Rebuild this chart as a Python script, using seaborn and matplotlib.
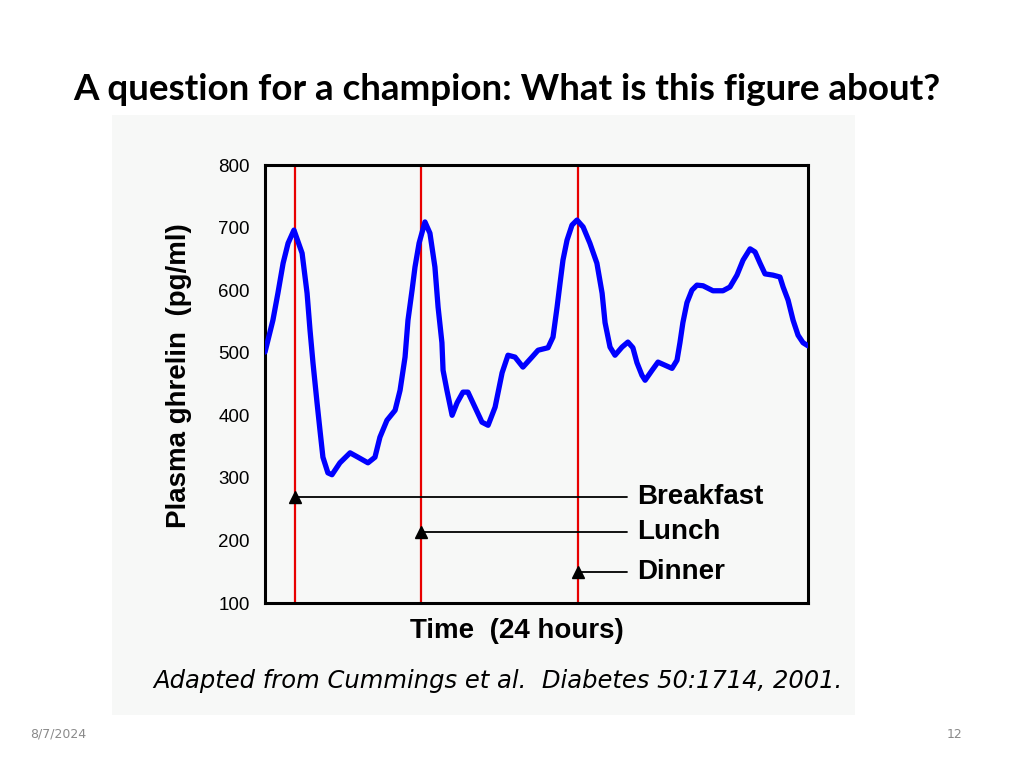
import matplotlib
matplotlib.use("Agg")
import matplotlib.pyplot as plt
from matplotlib.patches import Rectangle
import seaborn as sns
import pandas as pd

# ---- data ----
time_h = [0.00, 0.35, 0.57, 0.80, 1.02, 1.28, 1.64, 1.86, 1.99, 2.12, 2.30, 2.43,
          2.56, 2.78, 2.96, 3.31, 3.76, 4.11, 4.55, 4.86, 5.08, 5.39, 5.75, 5.97,
          6.19, 6.32, 6.50, 6.63, 6.81, 7.07, 7.29, 7.51, 7.65, 7.82, 7.87, 8.04,
          8.27, 8.49, 8.75, 8.97, 9.28, 9.59, 9.86, 10.17, 10.48, 10.74, 11.05,
          11.40, 11.80, 12.07, 12.51, 12.73, 12.91, 13.04, 13.17, 13.35, 13.57,
          13.79, 14.06, 14.36, 14.67, 14.90, 15.03, 15.25, 15.47, 15.78, 16.04,
          16.26, 16.44, 16.66, 16.80, 17.11, 17.37, 17.68, 17.99, 18.21, 18.34,
          18.47, 18.65, 18.87, 19.09, 19.36, 19.80, 20.24, 20.55, 20.86, 21.13,
          21.44, 21.66, 21.88, 22.10, 22.45, 22.76, 22.90, 23.12, 23.34, 23.56,
          23.78, 24.00]
ghrelin = [501, 552, 595, 643, 675, 696, 659, 595, 536, 484, 420, 376,
           333, 308, 305, 324, 340, 333, 324, 333, 365, 392, 408, 440,
           493, 552, 600, 637, 675, 709, 691, 637, 573, 516, 472, 440,
           400, 420, 437, 437, 413, 389, 384, 413, 468, 496, 493,
           477, 493, 504, 508, 525, 573, 611, 648, 680, 704,
           712, 701, 675, 643, 595, 548, 509, 496, 509, 517,
           508, 484, 464, 456, 472, 485, 480, 475, 488, 516,
           548, 580, 600, 608, 607, 599, 599, 605, 624, 648,
           666, 661, 643, 626, 624, 621, 605, 584, 552, 528,
           516, 511]
meal_labels = ["Breakfast", "Lunch", "Dinner"]
meal_times = [1.33, 6.90, 13.83]
meal_levels = [270, 213, 150]
y_ticks = [100, 200, 300, 400, 500, 600, 700, 800]

df = pd.DataFrame({"time": time_h, "ghrelin": ghrelin})

sns.set_style("white")
plt.rcParams["font.family"] = ["Liberation Sans", "DejaVu Sans"]
plt.rcParams["text.color"] = "black"
plt.rcParams["axes.labelcolor"] = "black"
plt.rcParams["ytick.color"] = "black"

fig = plt.figure(figsize=(10.24, 7.68), dpi=100, facecolor="white")
bg = "#f7f8f7"
fig.patches.append(Rectangle((112 / 1024, 1 - 715 / 768), 743 / 1024, 600 / 768,
                             transform=fig.transFigure, facecolor=bg,
                             edgecolor="none", zorder=-5))

ax = fig.add_axes([265 / 1024, 1 - 603 / 768, 543 / 1024, 438 / 768])
ax.set_facecolor(bg)

sns.lineplot(data=df, x="time", y="ghrelin", ax=ax, color="#0000ff",
             linewidth=3.8, zorder=3)

for t in meal_times:
    ax.axvline(t, color="#e80000", linewidth=1.6, zorder=2)

label_x = 16.0
for name, t, lev in zip(meal_labels, meal_times, meal_levels):
    ax.plot([t, label_x], [lev, lev], color="black", linewidth=1.3, zorder=4)
    ax.plot([t], [lev], marker="^", color="black", markersize=8, zorder=5)
    ax.text(label_x + 0.45, lev, name, fontsize=20, fontweight="bold",
            va="center", ha="left", color="black", zorder=5)

ax.set_xlim(0, 24)
ax.set_ylim(100, 800)
ax.set_yticks(y_ticks)
ax.set_yticklabels([str(v) for v in y_ticks], fontsize=13.5)
ax.set_xticks([])
ax.tick_params(axis="y", length=0, pad=11)
ax.set_xlabel("Time  (24 hours)", fontsize=20, fontweight="bold")
ax.set_ylabel("Plasma ghrelin  (pg/ml)", fontsize=20, fontweight="bold")
ax.xaxis.set_label_coords(0.464, -0.035)
ax.yaxis.set_label_coords(-0.134, 0.52)
for s in ax.spines.values():
    s.set_visible(True)
    s.set_color("black")
    s.set_linewidth(2.2)

fig.text(498 / 1024, 1 - 681 / 768,
         "Adapted from Cummings et al.  Diabetes 50:1714, 2001.",
         fontsize=17.5, style="italic", ha="center", va="center",
         family=["DejaVu Sans"])

fig.text(507 / 1024, 1 - 90 / 768,
         "A question for a champion: What is this figure about?",
         fontsize=26.5, fontweight="bold", ha="center", va="center",
         family=["Lato", "DejaVu Sans"])

fig.text(30 / 1024, 1 - 734 / 768, "8/7/2024", fontsize=9, color="#8a8a8a",
         ha="left", va="center", family=["DejaVu Sans"])
fig.text(962 / 1024, 1 - 734 / 768, "12", fontsize=9, color="#8a8a8a",
         ha="right", va="center", family=["DejaVu Sans"])

fig.savefig("out.png", dpi=100, facecolor="white")
